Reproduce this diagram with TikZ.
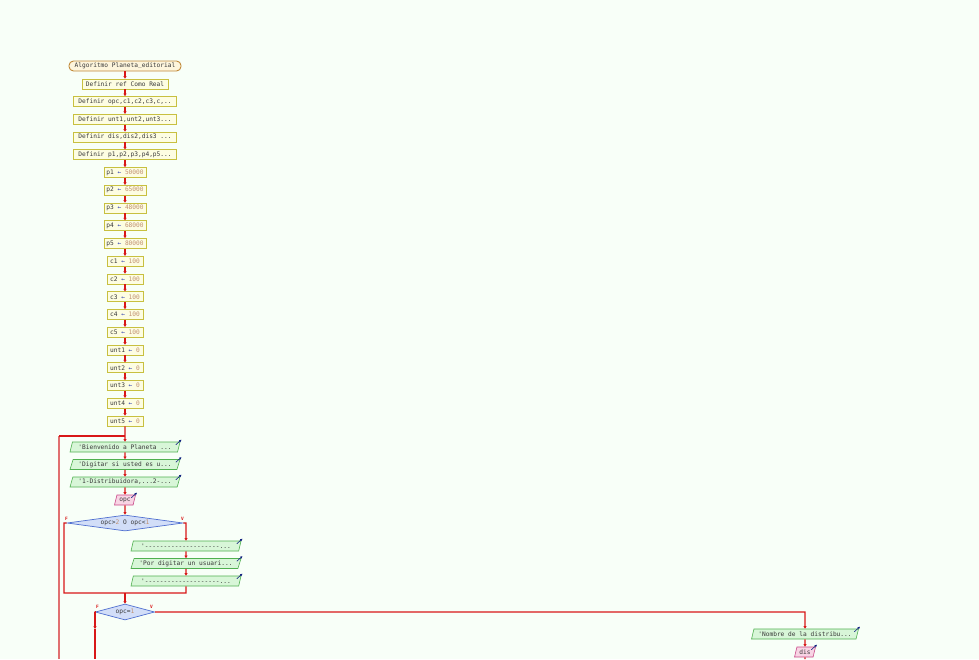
\documentclass[tikz,border=0pt]{standalone}
\usepackage{fontspec}
\setmonofont{DejaVu Sans Mono}
\usetikzlibrary{shapes.geometric,arrows.meta}
\definecolor{bg}{HTML}{F8FFF8}
\definecolor{procf}{HTML}{FDFDE2}
\definecolor{procb}{HTML}{C8C040}
\definecolor{termf}{HTML}{FDF5DC}
\definecolor{termb}{HTML}{C08838}
\definecolor{outf}{HTML}{D8F6D8}
\definecolor{outb}{HTML}{50B050}
\definecolor{inf}{HTML}{F8D4E4}
\definecolor{inb}{HTML}{C84888}
\definecolor{decf}{HTML}{D2DEF8}
\definecolor{decb}{HTML}{5070D0}
\definecolor{flowc}{HTML}{D81818}
\definecolor{loopc}{HTML}{E07070}
\definecolor{txt}{HTML}{383838}
\definecolor{num}{HTML}{C09070}
\definecolor{asg}{HTML}{3040B0}
\definecolor{ioarr}{HTML}{102080}
\newcommand{\asig}[2]{#1 \textcolor{asg}{←} \textcolor{num}{#2}}
\begin{document}
\begin{tikzpicture}[x=1pt,y=-1pt,
  font=\ttfamily\fontsize{6.2}{7}\selectfont,
  proc/.style={draw=procb, fill=procf, line width=0.6pt, inner xsep=1pt, inner ysep=0pt, minimum height=10pt, text=txt},
  term/.style={proc, draw=termb, fill=termf, rounded corners=4.5pt, line width=0.9pt},
  outp/.style={trapezium, trapezium left angle=63, trapezium right angle=117, trapezium stretches body, draw=outb, fill=outf, line width=0.6pt, minimum height=10pt, inner xsep=0pt, inner ysep=0pt, text=txt},
  inp/.style={outp, draw=inb, fill=inf},
  dec/.style={diamond, draw=decb, fill=decf, line width=0.7pt, inner sep=0pt, aspect=7, text=txt},
  conn/.style={draw=flowc, color=flowc, line width=1.2pt},
  flow/.style={conn, -{Triangle[length=2.6pt,width=3pt,color=flowc]}},
  ioa/.style={draw=ioarr, line width=0.6pt, -{Triangle[length=2.2pt,width=2.2pt]}},
  lab/.style={text=flowc, font=\ttfamily\bfseries\fontsize{4.5}{5}\selectfont, inner sep=0pt}
]
\fill[bg] (0,0) rectangle (979,659);
\useasboundingbox (0,0) rectangle (979,659);

\node[term, minimum width=112pt] (n0) at (125,66) {Algoritmo Planeta\raisebox{0.9pt}{\textunderscore}editorial};
\node[proc, minimum width=86pt] (n1) at (125,84) {Definir ref Como Real};
\node[proc, minimum width=103pt] (n2) at (125,101.5) {Definir opc,c1,c2,c3,c,..};
\node[proc, minimum width=103pt] (n3) at (125,119.25) {Definir unt1,unt2,unt3...};
\node[proc, minimum width=103pt] (n4) at (125,137) {Definir dis,dis2,dis3 ...};
\node[proc, minimum width=103pt] (n5) at (125,154.75) {Definir p1,p2,p3,p4,p5...};
\node[proc, minimum width=42pt] (n6) at (125,172.5) {\asig{p1}{50000}};
\node[proc, minimum width=42pt] (n7) at (125,190.25) {\asig{p2}{65000}};
\node[proc, minimum width=42pt] (n8) at (125,208) {\asig{p3}{48000}};
\node[proc, minimum width=42pt] (n9) at (125,225.75) {\asig{p4}{68000}};
\node[proc, minimum width=42pt] (n10) at (125,243.5) {\asig{p5}{80000}};
\node[proc, minimum width=36pt] (n11) at (125,261.25) {\asig{c1}{100}};
\node[proc, minimum width=36pt] (n12) at (125,279) {\asig{c2}{100}};
\node[proc, minimum width=36pt] (n13) at (125,296.75) {\asig{c3}{100}};
\node[proc, minimum width=36pt] (n14) at (125,314.5) {\asig{c4}{100}};
\node[proc, minimum width=36pt] (n15) at (125,332.25) {\asig{c5}{100}};
\node[proc, minimum width=36pt] (n16) at (125,350) {\asig{unt1}{0}};
\node[proc, minimum width=36pt] (n17) at (125,367.75) {\asig{unt2}{0}};
\node[proc, minimum width=36pt] (n18) at (125,385.5) {\asig{unt3}{0}};
\node[proc, minimum width=36pt] (n19) at (125,403.25) {\asig{unt4}{0}};
\node[proc, minimum width=36pt] (n20) at (125,421) {\asig{unt5}{0}};

\node[outp, minimum width=110pt] (o1) at (125,447) {'Bienvenido a Planeta ...};
\node[outp, minimum width=110pt] (o2) at (125,464.5) {'Digitar si usted es u...};
\node[outp, minimum width=110pt] (o3) at (125,482) {'1-Distribuidora,...2-...};
\node[inp, minimum width=21pt] (i1) at (125,500) {opc};
\node[dec, minimum width=116pt, minimum height=16pt] (d1) at (125,523) {opc>\textcolor{num}{2} O opc<\textcolor{num}{1}};
\node[outp, minimum width=110pt] (o4) at (186,546) {'--------------------...};
\node[outp, minimum width=110pt] (o5) at (186,563.5) {'Por digitar un usuari...};
\node[outp, minimum width=110pt] (o6) at (186,581) {'--------------------...};
\node[dec, minimum width=48pt, minimum height=16pt] (d2) at (125,612) {opc=\textcolor{num}{1}};
\node[outp, minimum width=107pt] (o7) at (805,634) {'Nombre de la distribu...};
\node[inp, minimum width=21pt] (i2) at (805,652) {dis};

% main chain
\foreach \a/\b in {n0/n1,n1/n2,n2/n3,n3/n4,n4/n5,n5/n6,n6/n7,n7/n8,n8/n9,n9/n10,n10/n11,n11/n12,n12/n13,n13/n14,n14/n15,n15/n16,n16/n17,n17/n18,n18/n19,n19/n20,n20/o1,o1/o2,o2/o3,o3/i1,i1/d1,o4/o5,o5/o6,o7/i2}
  \draw[flow] (\a.south) -- (\b.north);

% repeat loop
\coordinate (lb) at (59,659);
\coordinate (lt) at (59,436);
\coordinate (lj) at (125,436);
\draw[draw=loopc, line width=1.6pt] (lb) -- (lt);
\draw[conn] (lt) -- (lj);

% decision 1
\coordinate (d1l) at (64,523);
\coordinate (d1lb) at (64,593);
\coordinate (m1) at (125,593);
\coordinate (d1r) at (186,523);
\coordinate (d1rb) at (186,593);
\draw[conn] (d1.west) -- (d1l) -- (d1lb) -- (d1rb) -- (o6.south);
\draw[flow] (d1.east) -- (d1r) -- (o4.north);
\draw[flow] (m1) -- (d2.north);
\node[lab] (f1) at (66.5,519) {F};
\node[lab] (v1) at (182.5,519) {V};

% decision 2
\coordinate (d2l) at (95,612);
\coordinate (d2lm) at (95,629);
\coordinate (d2lb) at (95,659);
\coordinate (d2r) at (805,612);
\coordinate (ib) at (805,659);
\draw[flow] (d2.west) -- (d2l) -- (d2lm);
\draw[conn] (d2lm) -- (d2lb);
\draw[flow] (d2.east) -- (d2r) -- (o7.north);
\draw[conn] (i2.south) -- (ib);
\node[lab] (f2) at (97.5,607) {F};
\node[lab] (v2) at (151.5,607) {V};

% io arrows
\foreach \n in {o1,o2,o3,i1,o4,o5,o6,o7,i2}
  \draw[ioa] ([shift={(-4.5,3)}]\n.top right corner) -- ([shift={(1,-2)}]\n.top right corner);
\end{tikzpicture}
\end{document}
